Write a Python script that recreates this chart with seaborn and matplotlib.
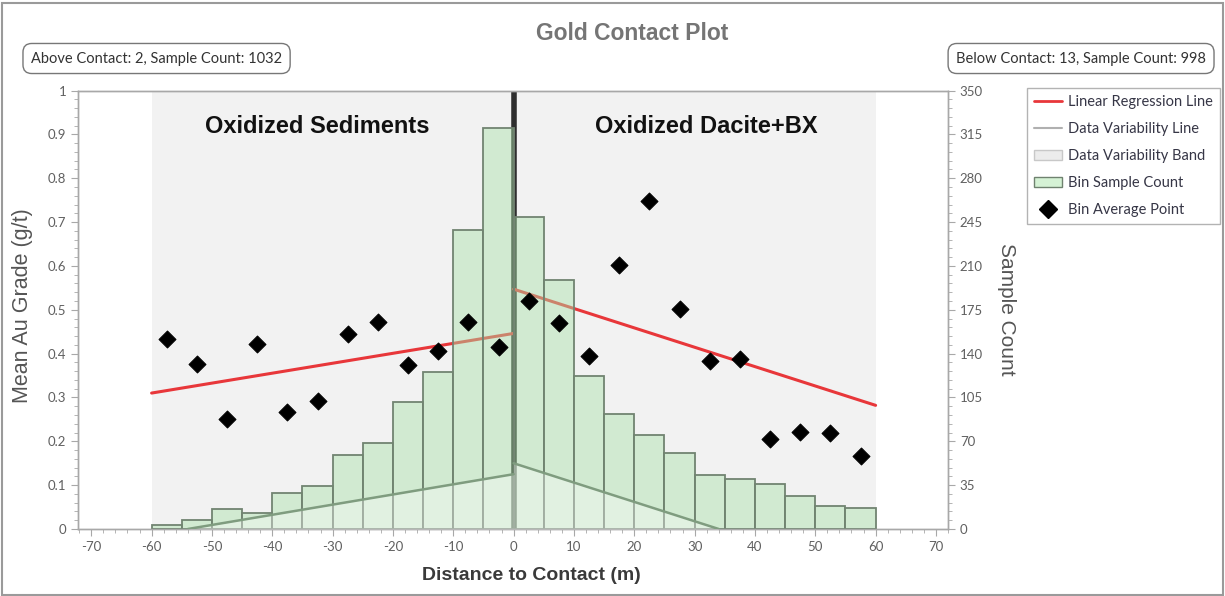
import numpy as np
import pandas as pd
import seaborn as sns
import matplotlib.pyplot as plt
from matplotlib.lines import Line2D
from matplotlib.patches import Patch, Rectangle
from matplotlib.ticker import MultipleLocator

# ---- data ----
bin_left = [-60, -55, -50, -45, -40, -35, -30, -25, -20, -15, -10, -5]
count_left = [3, 7, 16, 13, 29, 34, 59, 69, 101, 125, 239, 320]
bin_right = [0, 5, 10, 15, 20, 25, 30, 35, 40, 45, 50, 55]
count_right = [249, 199, 122, 92, 75, 61, 43, 40, 36, 26, 18, 17]

pt_x_left = [-57.5, -52.5, -47.5, -42.5, -37.5, -32.5, -27.5, -22.5, -17.5, -12.5, -7.5, -2.5]
grade_left = [0.434, 0.377, 0.251, 0.422, 0.266, 0.293, 0.445, 0.472, 0.373, 0.406, 0.472, 0.416]
pt_x_right = [2.5, 7.5, 12.5, 17.5, 22.5, 27.5, 32.5, 37.5, 42.5, 47.5, 52.5, 57.5]
grade_right = [0.521, 0.469, 0.394, 0.602, 0.749, 0.502, 0.383, 0.388, 0.206, 0.221, 0.218, 0.167]

reg_left_x, reg_left_y = [-60, 0], [0.310, 0.446]
reg_right_x, reg_right_y = [0, 60], [0.547, 0.282]
var_left_x, var_left_y = [-54, 0], [0.0, 0.125]
var_right_x, var_right_y = [0, 34], [0.150, 0.0]

above_text = "Above Contact: 2, Sample Count: 1032"
below_text = "Below Contact: 13, Sample Count: 998"
zone_left = "Oxidized Sediments"
zone_right = "Oxidized Dacite+BX"

bins = pd.DataFrame({
    "start": bin_left + bin_right,
    "count": count_left + count_right,
})
bins["mid"] = bins["start"] + 2.5
points = pd.DataFrame({"x": pt_x_left + pt_x_right, "grade": grade_left + grade_right})

# ---- styling ----
sns.set_theme(style="white")
plt.rcParams["font.family"] = ["Lato", "DejaVu Sans"]
plt.rcParams["axes.unicode_minus"] = False
tick_col = "#606060"
spine_col = "#a8a8a8"
bar_face = "#a9e2a9"
bar_edge = "#718471"

fig = plt.figure(figsize=(12.25, 5.96), dpi=100)
ax = fig.add_axes([78 / 1225, 1 - 529 / 596, (948 - 78) / 1225, (529 - 90.5) / 596])
ax2 = ax.twinx()

# count axis on the right, grade axis on the left
ax.set_xlim(-72.2, 72)
ax.set_ylim(0, 350)
ax2.set_ylim(0, 1)
ax.yaxis.tick_right()
ax.yaxis.set_label_position("right")
ax2.yaxis.tick_left()
ax2.yaxis.set_label_position("left")

# shaded zone region and contact line
ax.axvspan(-60, 60, color="#f2f2f2", zorder=0, lw=0)
ax.axvline(0, color="#2e2e2e", lw=4, zorder=1)

# regression lines drawn under the translucent bars
for xs, ys in [(reg_left_x, reg_left_y), (reg_right_x, reg_right_y)]:
    ax.plot(xs, ys, color="#e8373a", lw=2.2, transform=ax2.transData, zorder=2)

# bin sample counts
sns.histplot(data=bins, x="mid", weights="count", binwidth=5, binrange=(-60, 60),
             ax=ax, color=bar_face, edgecolor=bar_edge, linewidth=1.3, alpha=0.45, zorder=3)

# data variability band + line
for xs, ys in [(var_left_x, var_left_y), (var_right_x, var_right_y)]:
    ax2.fill_between(xs, 0, ys, color="white", alpha=0.35, lw=0, zorder=4)
    ax2.plot(xs, ys, color="#7f9c7f", lw=1.8, zorder=5)

# bin average points
sns.scatterplot(data=points, x="x", y="grade", ax=ax2, marker="D", s=75,
                color="black", edgecolor="black", zorder=6)

# ticks
ax.xaxis.set_major_locator(MultipleLocator(10))
ax.xaxis.set_minor_locator(MultipleLocator(2))
ax.yaxis.set_major_locator(MultipleLocator(35))
ax.yaxis.set_minor_locator(MultipleLocator(7))
ax2.yaxis.set_major_locator(MultipleLocator(0.1))
ax2.yaxis.set_minor_locator(MultipleLocator(0.02))
ax2.yaxis.set_major_formatter(plt.FuncFormatter(lambda v, p: f"{v:g}"))

for a in (ax, ax2):
    a.tick_params(which="major", length=5, width=0.8, color=spine_col, labelcolor=tick_col,
                  labelsize=9.5, direction="out")
    a.tick_params(which="minor", length=3, width=0.6, color=spine_col, direction="out")
    for s in a.spines.values():
        s.set_color(spine_col)
        s.set_linewidth(1.0)
ax.tick_params(axis="x", which="both", bottom=True)
ax.tick_params(axis="y", which="both", right=True, left=False)
ax2.tick_params(axis="y", which="both", left=True, right=False)

ax.set_xlabel("Distance to Contact (m)", fontsize=14, fontweight="bold", color="#3a3a3a",
              family=["Liberation Sans"], va="center")
ax.xaxis.set_label_coords(0.521, -0.107)
ax.set_ylabel("Sample Count", fontsize=15, color="#555555", rotation=270,
              family=["Liberation Sans"], va="center")
ax.yaxis.set_label_coords((1007 - 78) / 870, 0.5)
ax2.set_ylabel("Mean Au Grade (g/t)", fontsize=15.5, color="#555555",
               family=["Liberation Sans"], va="center")
ax2.yaxis.set_label_coords((23 - 78) / 870, 0.51)

# zone labels
ax2.text(-32.5, 0.918, zone_left, ha="center", va="center", fontsize=17,
         fontweight="bold", color="#111111", family=["Liberation Sans"], zorder=7)
ax2.text(32, 0.918, zone_right, ha="center", va="center", fontsize=17,
         fontweight="bold", color="#111111", family=["Liberation Sans"], zorder=7)

# title and info boxes
fig.text(0.516, 1 - 33 / 596, "Gold Contact Plot", ha="center", va="center", fontsize=16.5,
         fontweight="bold", color="#757575", family=["Liberation Sans"])
box = dict(boxstyle="round,pad=0.55,rounding_size=0.6", facecolor="white",
           edgecolor="#777777", linewidth=1.0)
fig.text(31 / 1225, 1 - 58.5 / 596, above_text, ha="left", va="center", fontsize=10.5,
         color="#333333", bbox=box)
fig.text(1206 / 1225, 1 - 58.5 / 596, below_text, ha="right", va="center", fontsize=10.5,
         color="#333333", bbox=box)

# legend
handles = [
    Line2D([0], [0], color="#e8373a", lw=2),
    Line2D([0], [0], color="#b0b0b0", lw=1.5),
    Patch(facecolor="#ececec", edgecolor="#c8c8c8"),
    Patch(facecolor="#d5f2d5", edgecolor="#6f826f"),
    Line2D([0], [0], marker="D", color="black", lw=0, markersize=9),
]
labels = ["Linear Regression Line", "Data Variability Line", "Data Variability Band",
          "Bin Sample Count", "Bin Average Point"]
leg = fig.legend(handles, labels, loc="upper left", bbox_to_anchor=(1027 / 1225, 1 - 88 / 596),
                 frameon=True, fancybox=False, fontsize=10.5, handlelength=1.9,
                 labelspacing=0.88, borderpad=0.5, handletextpad=0.4, borderaxespad=0)
leg.get_frame().set_edgecolor("#a0a0a0")
leg.get_frame().set_linewidth(1.0)
for t in leg.get_texts():
    t.set_color("#363646")

# outer frame
fig.patches.append(Rectangle((0.002, 0.002), 0.996, 0.993, transform=fig.transFigure,
                             fill=False, edgecolor="#9a9a9a", linewidth=1.5))

fig.savefig("out.png", dpi=100)
